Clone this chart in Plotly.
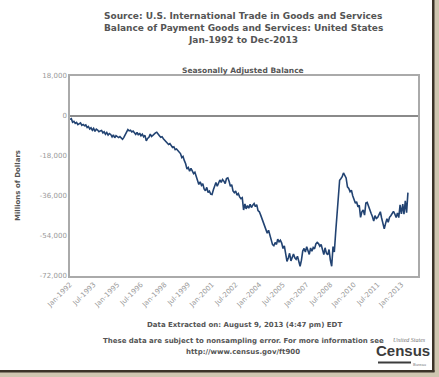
import pandas as pd
import plotly.graph_objects as go

# ---- data (millions of dollars, monthly, Jan-1992 .. Jun-2013) ----
bal_1992 = [-1500, -1200, -2800, -2400, -3300, -2900, -3900, -3500, -3100, -4200, -3800, -4400]
bal_1993 = [-4000, -5200, -4700, -5800, -5300, -6400, -5600, -6900, -5900, -6300, -7100, -6700]
bal_1994 = [-6500, -7600, -7100, -8200, -7400, -8600, -7900, -8300, -9400, -8500, -9800, -8800]
bal_1995 = [-9200, -9700, -9300, -10200, -10500, -9600, -8400, -7000, -6100, -6700, -6400, -7200]
bal_1996 = [-6800, -7500, -8300, -7400, -8600, -7700, -8900, -8200, -9400, -8700, -11200, -10100]
bal_1997 = [-9600, -8100, -9200, -8700, -8000, -7600, -7300, -8400, -8900, -9600, -9300, -10200]
bal_1998 = [-10800, -11300, -12100, -12800, -12400, -13600, -14200, -13900, -15100, -14800, -15600, -16200]
bal_1999 = [-16900, -18700, -18200, -20100, -21500, -23900, -23200, -24800, -23600, -24700, -25900, -25300]
bal_2000 = [-27400, -29900, -30800, -29600, -31200, -30500, -32800, -33600, -32100, -34400, -33800, -35100]
bal_2001 = [-35300, -33200, -31400, -29900, -31600, -30200, -28800, -29900, -28600, -29300, -30400, -28100]
bal_2002 = [-27800, -29500, -31600, -30900, -33700, -34500, -33800, -35600, -34900, -36400, -37200, -36800]
bal_2003 = [-42300, -39600, -41800, -40300, -41500, -39700, -41200, -40100, -39400, -40800, -39900, -42600]
bal_2004 = [-43100, -44600, -46200, -47900, -50100, -51600, -52700, -51400, -53800, -55600, -57900, -58400]
bal_2005 = [-56900, -57800, -55400, -56600, -55900, -57200, -59600, -58400, -61300, -65400, -63900, -61800]
bal_2006 = [-65200, -63400, -62100, -63800, -64500, -63100, -65900, -67600, -64900, -60800, -59600, -61200]
bal_2007 = [-58800, -60600, -62300, -59400, -60900, -59200, -59800, -57600, -56900, -57400, -58600, -57800]
bal_2008 = [-60200, -62400, -59300, -61700, -62500, -60100, -64800, -67600, -58800, -61200, -52400, -44900]
bal_2009 = [-36100, -28900, -28200, -27300, -25600, -26800, -27900, -31900, -32600, -34100, -33400, -35900]
bal_2010 = [-37800, -39300, -38600, -40900, -40200, -45600, -43100, -42300, -44600, -39200, -38900, -40700]
bal_2011 = [-42800, -43900, -45200, -47300, -44800, -46100, -45700, -44300, -43100, -45900, -48600, -50800]
bal_2012 = [-48300, -46200, -47800, -45600, -44900, -43800, -42900, -44100, -45700, -43600, -45700, -40000]
bal_2013 = [-44000, -39700, -44200, -38200, -43500, -34500]

x_tick_labels = ["Jan-1992", "Jul-1993", "Jan-1995", "Jul-1996", "Jan-1998", "Jul-1999",
                 "Jan-2001", "Jul-2002", "Jan-2004", "Jul-2005", "Jan-2007", "Jul-2008",
                 "Jan-2010", "Jul-2011", "Jan-2013"]
y_tick_values = [18000, 0, -18000, -36000, -54000, -72000]

title_lines = ["Source: U.S. International Trade in Goods and Services",
               "Balance of Payment Goods and Services: United States",
               "Jan-1992 to Dec-2013"]
subtitle = "Seasonally Adjusted Balance"
y_title = "Millions of Dollars"
footer_1 = "Data Extracted on: August 9, 2013 (4:47 pm) EDT"
footer_2 = "These data are subject to nonsampling error. For more information see"
footer_3 = "http://www.census.gov/ft900"

values = (bal_1992 + bal_1993 + bal_1994 + bal_1995 + bal_1996 + bal_1997 + bal_1998 +
          bal_1999 + bal_2000 + bal_2001 + bal_2002 + bal_2003 + bal_2004 + bal_2005 +
          bal_2006 + bal_2007 + bal_2008 + bal_2009 + bal_2010 + bal_2011 + bal_2012 + bal_2013)
dates = pd.date_range("1992-01-01", periods=len(values), freq="MS")
tick_dates = [pd.to_datetime(t, format="%b-%Y") for t in x_tick_labels]

# ---- layout geometry (pixels) ----
W, H = 439, 377
L, R, T, B = 70, 418, 76, 276


def px(x):
    return (x - L) / (R - L)


def py(y):
    return (B - y) / (B - T)


FONT = "DejaVu Sans"
TXT = "#555555"

fig = go.Figure()
fig.add_trace(go.Scatter(x=dates, y=values, mode="lines",
                         line=dict(color="#224372", width=1.6), hoverinfo="skip"))

ann = []
for i, line in enumerate(title_lines):
    ann.append(dict(text="<b>%s</b>" % line, x=px(243), y=py(16 + 12 * i), xref="paper", yref="paper",
                    showarrow=False, xanchor="center", yanchor="middle",
                    font=dict(family=FONT, size=9, color=TXT)))
ann.append(dict(text="<b>%s</b>" % subtitle, x=px(243), y=py(70), xref="paper", yref="paper",
                showarrow=False, xanchor="center", yanchor="middle",
                font=dict(family=FONT, size=7.5, color=TXT)))
ann.append(dict(text="<b>%s</b>" % y_title, x=px(18), y=py(185), xref="paper", yref="paper",
                showarrow=False, xanchor="center", yanchor="middle", textangle=-90,
                font=dict(family=FONT, size=7, color=TXT)))
ann.append(dict(text="<b>%s</b>" % footer_1, x=px(244), y=py(325), xref="paper", yref="paper",
                showarrow=False, xanchor="center", yanchor="middle",
                font=dict(family=FONT, size=7, color=TXT)))
ann.append(dict(text="<b>%s</b>" % footer_2, x=px(243), y=py(341), xref="paper", yref="paper",
                showarrow=False, xanchor="center", yanchor="middle",
                font=dict(family=FONT, size=7, color=TXT)))
ann.append(dict(text="<b>%s</b>" % footer_3, x=px(243), y=py(352), xref="paper", yref="paper",
                showarrow=False, xanchor="center", yanchor="middle",
                font=dict(family=FONT, size=7, color=TXT)))
# Census logo
ann.append(dict(text="<b>Census</b>", x=px(403), y=py(350), xref="paper", yref="paper",
                showarrow=False, xanchor="center", yanchor="middle",
                font=dict(family="Liberation Sans", size=15, color="#3c3c3c")))
ann.append(dict(text="<i>United States</i>", x=px(428), y=py(340), xref="paper", yref="paper",
                showarrow=False, xanchor="right", yanchor="middle",
                font=dict(family="Liberation Serif", size=6, color="#777777")))
ann.append(dict(text="Bureau", x=px(428), y=py(364), xref="paper", yref="paper",
                showarrow=False, xanchor="right", yanchor="middle",
                font=dict(family="Liberation Sans", size=4, color="#777777")))

shapes = [
    # census bar
    dict(type="rect", xref="paper", yref="paper", x0=px(378), x1=px(411), y0=py(363.5), y1=py(361.5),
         fillcolor="#3c3c3c", line=dict(width=0)),
    # photo frame shadow (right / bottom)
    dict(type="rect", xref="paper", yref="paper", x0=px(434), x1=px(440), y0=py(-2), y1=py(378),
         fillcolor="#cfc6b0", line=dict(width=0)),
    dict(type="rect", xref="paper", yref="paper", x0=px(-2), x1=px(440), y0=py(372), y1=py(378),
         fillcolor="#cfc6b0", line=dict(width=0)),
    dict(type="rect", xref="paper", yref="paper", x0=px(432), x1=px(434.5), y0=py(0), y1=py(372),
         fillcolor="#3b3328", line=dict(width=0)),
    dict(type="rect", xref="paper", yref="paper", x0=px(0), x1=px(434.5), y0=py(372.5), y1=py(370),
         fillcolor="#3b3328", line=dict(width=0)),
]

fig.update_layout(
    width=W, height=H,
    margin=dict(l=L, r=W - R, t=T, b=H - B, pad=0),
    paper_bgcolor="white", plot_bgcolor="white",
    showlegend=False,
    annotations=ann, shapes=shapes,
    xaxis=dict(range=[pd.Timestamp("1992-01-01"), pd.Timestamp("2014-01-20")],
               tickvals=tick_dates, ticktext=x_tick_labels, tickangle=-45,
               tickfont=dict(family=FONT, size=7, color="#999999"),
               showgrid=False, zeroline=False, showline=True, linecolor="#aaaaaa",
               linewidth=1.5, mirror=True, ticks="", fixedrange=True),
    yaxis=dict(range=[-72000, 18000], tickvals=y_tick_values,
               ticktext=["{:,}".format(v) for v in y_tick_values],
               tickfont=dict(family=FONT, size=7, color="#999999"),
               showgrid=False, zeroline=True, zerolinecolor="#8a8a8a", zerolinewidth=2,
               showline=True, linecolor="#aaaaaa", linewidth=1.5, mirror=True,
               ticks="", ticklen=0, fixedrange=True),
)

fig.write_html("out.html", config={"displayModeBar": False},
               post_script="document.body.style.margin='0px';document.body.style.overflow='hidden';")
